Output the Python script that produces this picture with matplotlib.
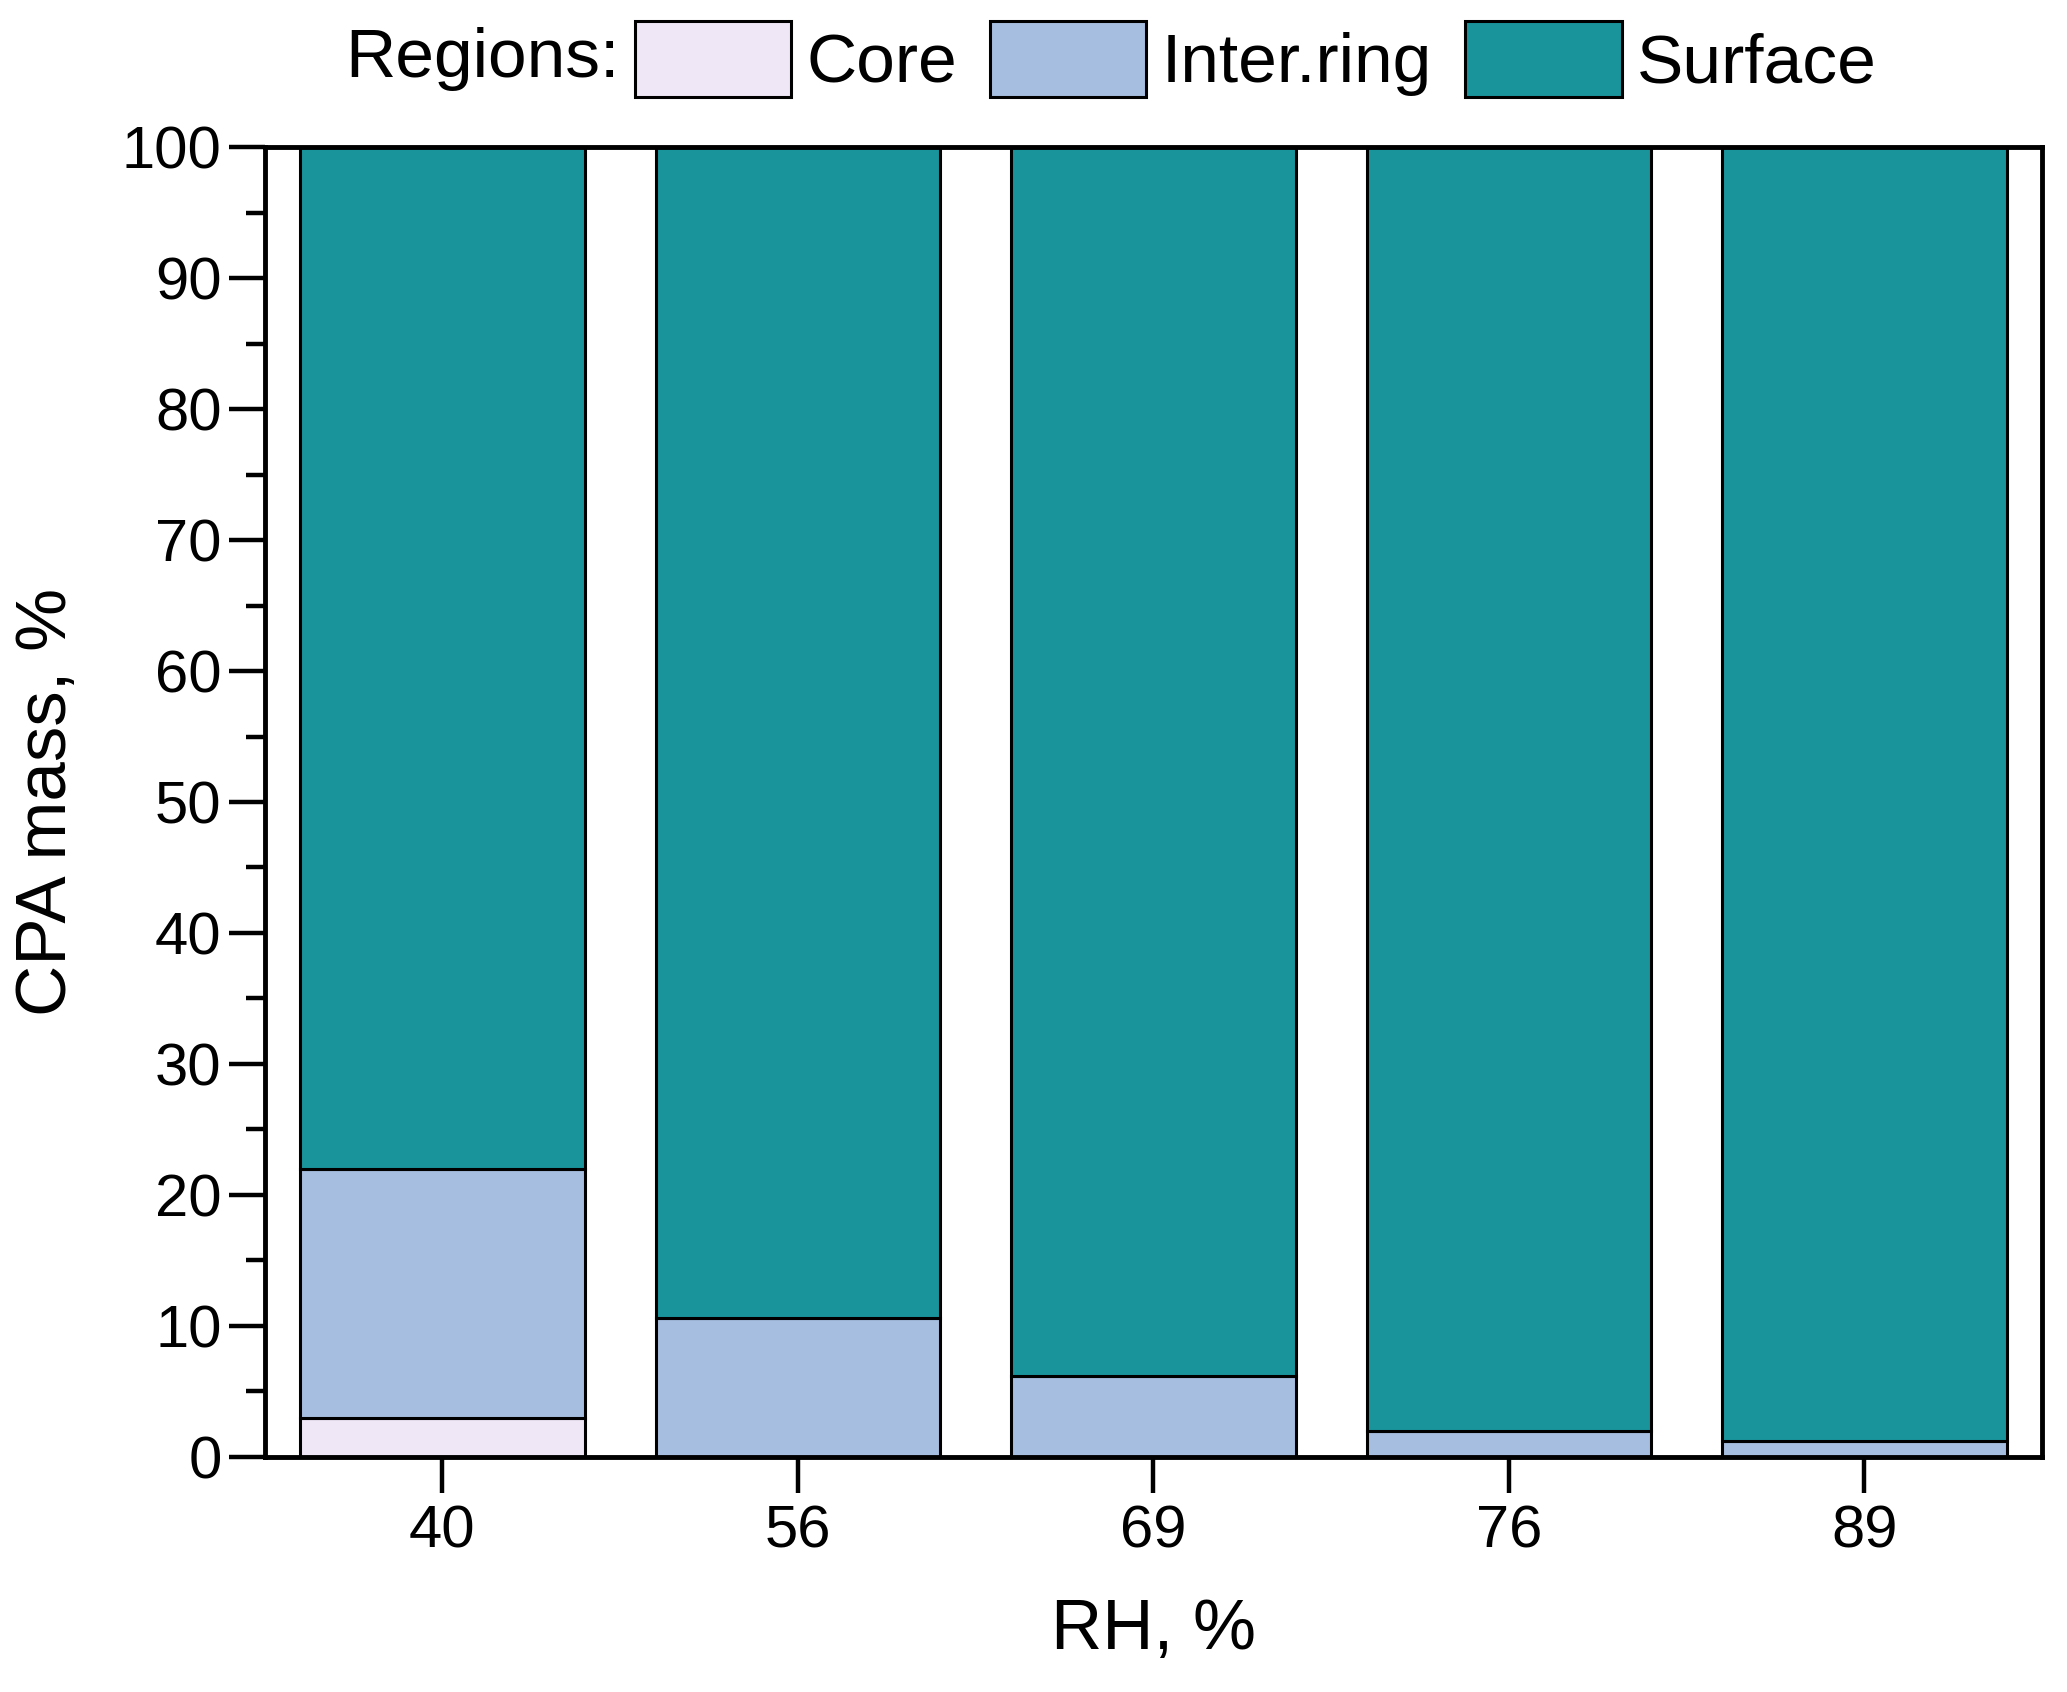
import matplotlib.pyplot as plt
from matplotlib.ticker import MultipleLocator

plt.rcParams['font.family'] = ['Liberation Sans', 'DejaVu Sans']

# data
rh = ['40', '56', '69', '76', '89']
core = [3.0, 0.0, 0.0, 0.0, 0.0]
inter_ring = [19.0, 10.6, 6.2, 2.0, 1.2]
surface = [100 - c - i for c, i in zip(core, inter_ring)]
regions = ['Core', 'Inter.ring', 'Surface']
colors = ['#EFE6F6', '#A6BEE0', '#19949B']

fig = plt.figure(figsize=(20.67, 16.92), dpi=100)
ax = fig.add_axes([0.128, 0.139, 0.860, 0.774])

x = list(range(len(rh)))
bottom = [0.0] * len(rh)
for name, vals, col in zip(regions, [core, inter_ring, surface], colors):
    ax.bar(x, vals, width=0.8, bottom=bottom, color=col, edgecolor='black',
           linewidth=2.2, label=name)
    bottom = [b + v for b, v in zip(bottom, vals)]

ax.set_xlim(-0.5, 4.5)
ax.set_ylim(0, 100)
ax.set_xticks(x)
ax.set_xticklabels(rh)
ax.yaxis.set_major_locator(MultipleLocator(10))
ax.yaxis.set_minor_locator(MultipleLocator(5))
ax.tick_params(axis='both', labelsize=43, width=3.2, length=26, direction='out')
ax.tick_params(axis='y', which='minor', width=3.2, length=14)
ax.tick_params(axis='x', pad=8)
ax.tick_params(axis='y', pad=5)
for s in ax.spines.values():
    s.set_linewidth(3.5)

ax.set_xlabel('RH, %', fontsize=51, labelpad=28)
ax.set_ylabel('CPA mass, %', fontsize=51, labelpad=29)

fig.text(0.300, 0.965, 'Regions:', fontsize=50, ha='right', va='center')
leg = fig.legend(loc='center left', bbox_to_anchor=(0.307, 0.965), ncol=3,
                 fontsize=50, frameon=False, handlelength=2.25, handleheight=1.3,
                 handletextpad=0.22, columnspacing=0.48, borderpad=0,
                 borderaxespad=0)
for p in leg.get_patches():
    p.set_linewidth(2.2)

fig.savefig('out.png', dpi=100)
